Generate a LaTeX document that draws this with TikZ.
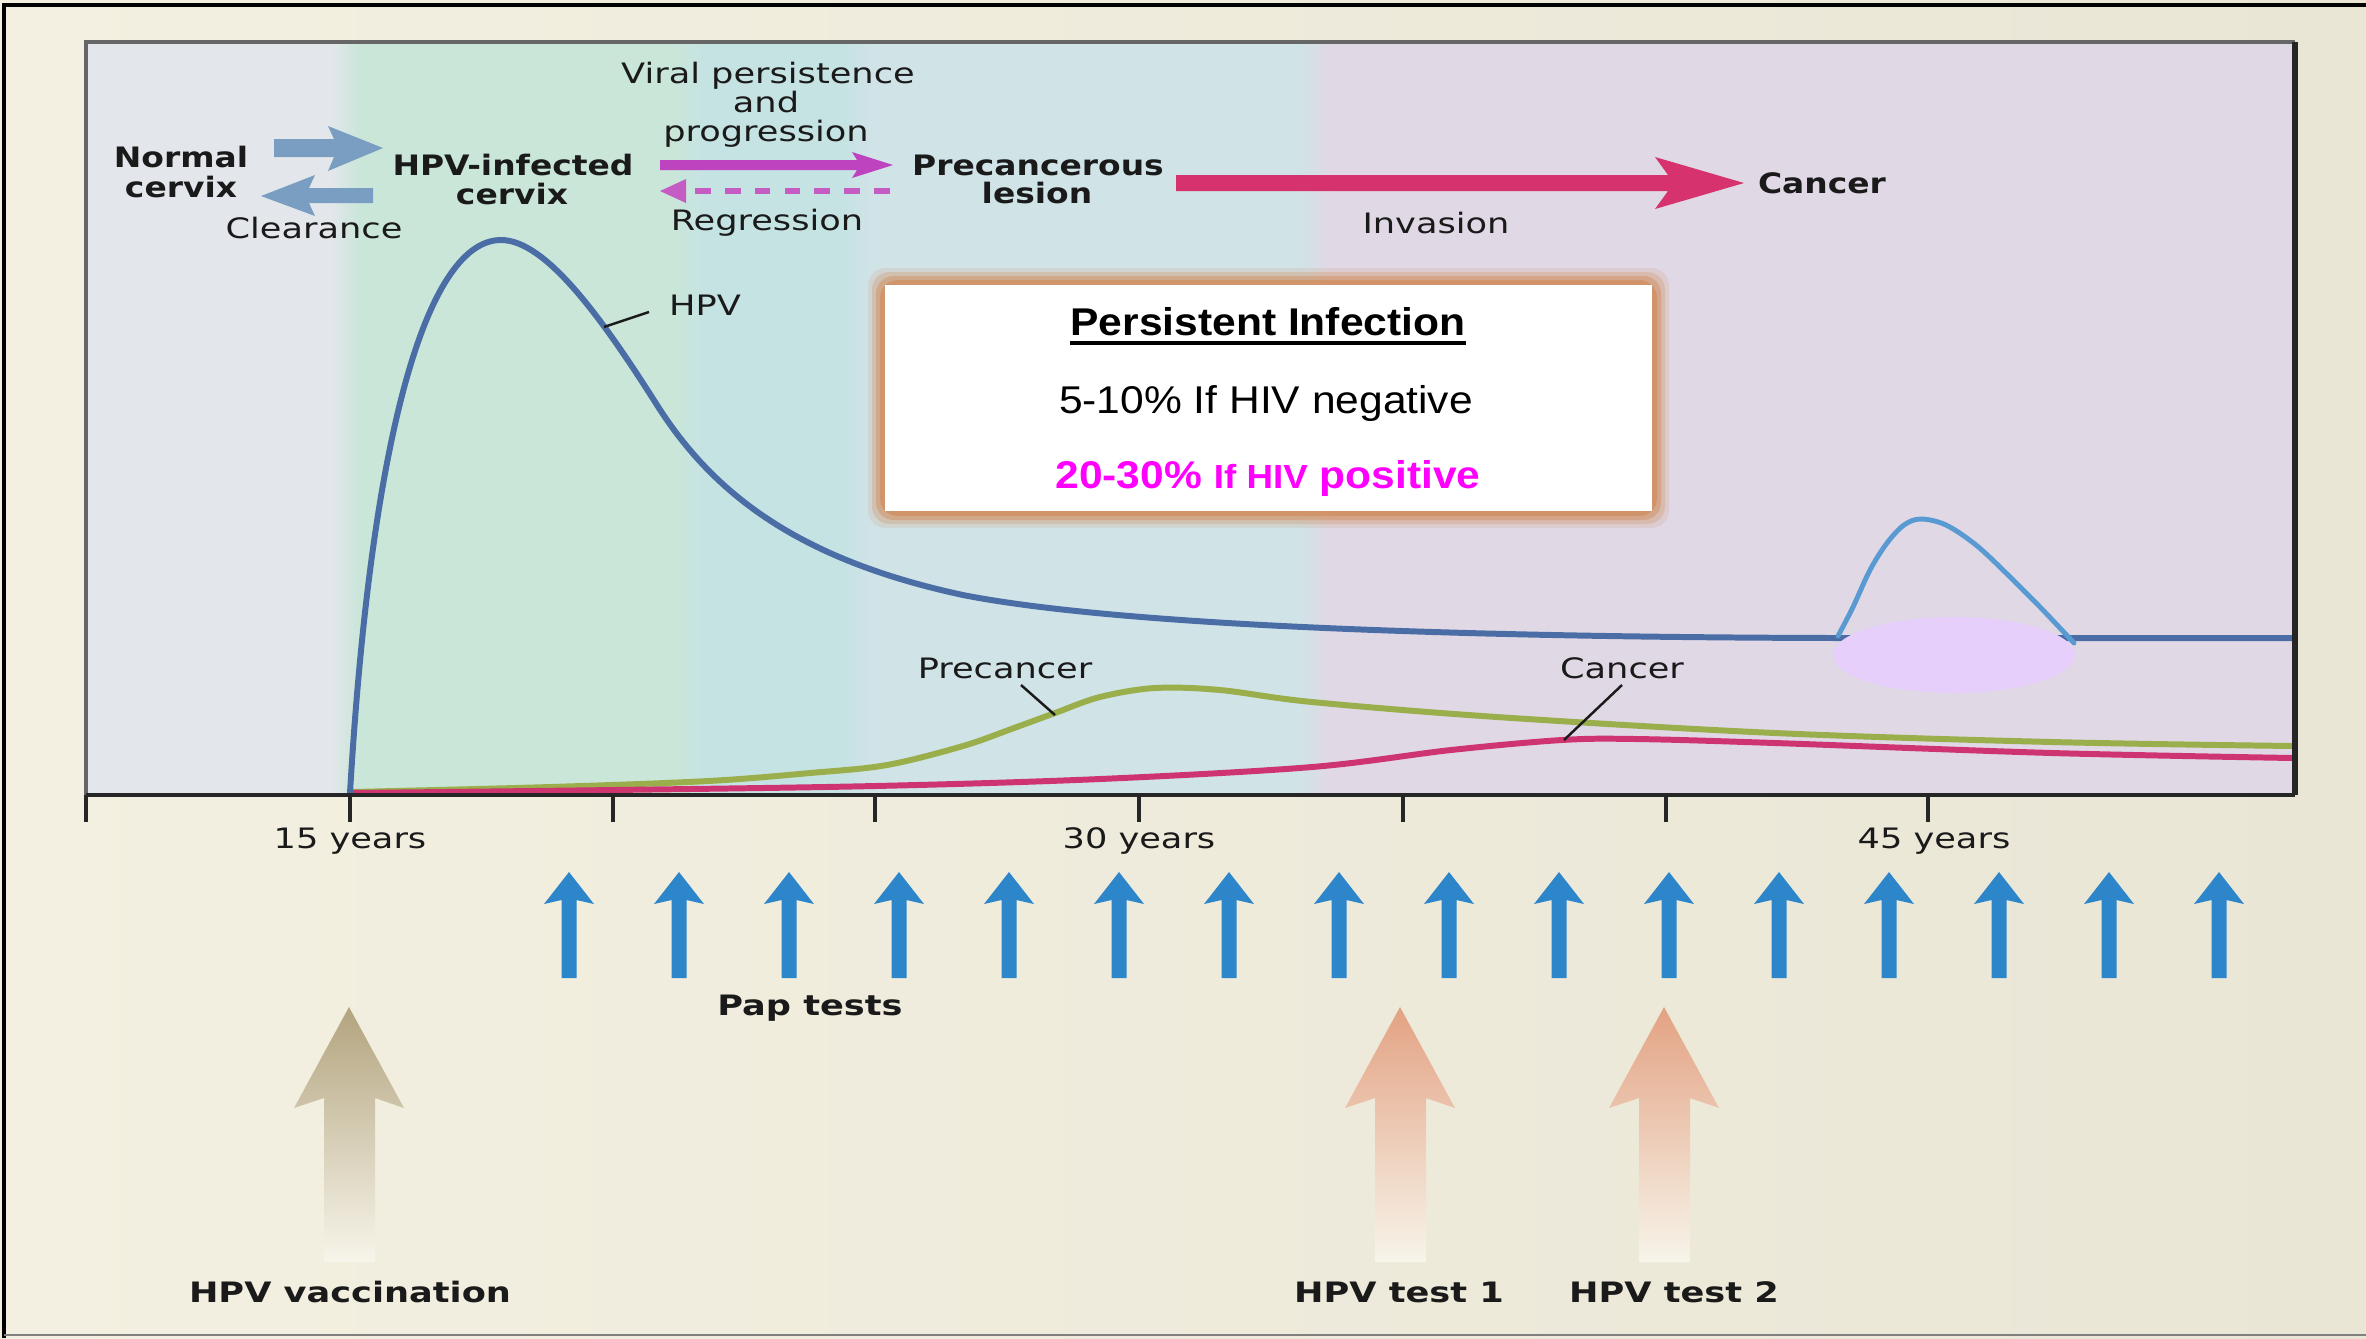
\documentclass[tikz,border=0pt]{standalone}
\usepackage{fontspec}
\newfontfamily\lab[FakeStretch=1.25]{DejaVu Sans}
\newfontfamily\labb[FakeStretch=1.17]{DejaVu Sans}
\newfontfamily\arl[FakeStretch=1.1]{Liberation Sans}
\definecolor{bgA}{HTML}{F4F0E1}
\definecolor{bgB}{HTML}{EAE6D6}
\definecolor{bandA}{HTML}{E3E7EB}
\definecolor{bandB}{HTML}{C9E6D9}
\definecolor{bandC}{HTML}{C6E3E4}
\definecolor{bandD}{HTML}{D0E3E7}
\definecolor{bandE}{HTML}{E0D8E5}
\definecolor{hpvblue}{HTML}{4A6DA6}
\definecolor{bumpblue}{HTML}{5A9AD3}
\definecolor{ellc}{HTML}{E6CFFB}
\definecolor{greenc}{HTML}{9AAE4B}
\definecolor{pinkc}{HTML}{CE3470}
\definecolor{steel}{HTML}{7A9EC2}
\definecolor{purp}{HTML}{BE44BF}
\definecolor{purpd}{HTML}{C45CC4}
\definecolor{crim}{HTML}{D6326E}
\definecolor{papblue}{HTML}{2C86C9}
\definecolor{vaccc}{HTML}{B3A47F}
\definecolor{testc}{HTML}{E3A283}
\definecolor{glowc}{HTML}{D08A58}
\definecolor{mag}{HTML}{FF00FF}
\definecolor{ink}{HTML}{1A1A1A}
\tikzset{
  lbl/.style={font=\lab\fontsize{8}{9}\selectfont, text=ink, inner sep=0pt, anchor=base},
  lblb/.style={font=\labb\bfseries\fontsize{8}{9}\selectfont, text=ink, inner sep=0pt, anchor=base},
  lblbw/.style={font=\lab\bfseries\fontsize{8}{9}\selectfont, text=ink, inner sep=0pt, anchor=base},
  boxt/.style={font=\arl\fontsize{11}{13}\selectfont, text=black, inner sep=0pt, anchor=base},
  curve/.style={line width=1.7pt, line cap=round, line join=round},
  leader/.style={line width=0.7pt, ink},
  tick/.style={line width=0.9pt, black!85},
}
\begin{document}
\begin{tikzpicture}[x=0.01cm, y=-0.01cm]
\useasboundingbox (0,0) rectangle (2366,1338);
% background
\shade[left color=bgA, right color=bgB] (0,0) rectangle (2366,1338);
\draw[line width=1pt, black] (4,1338) -- (4,5) -- (2366,5);
\draw[line width=0.8pt, gray] (4,1335) -- (2366,1335);
% bands
\fill[bandA] (86,42) rectangle (348,795);
\fill[bandB] (348,42) rectangle (690,795);
\fill[bandC] (690,42) rectangle (857,795);
\fill[bandD] (857,42) rectangle (1316,795);
\fill[bandE] (1316,42) rectangle (2295,795);
\shade[left color=bandA, right color=bandB] (330,42) rectangle (360,795);
\shade[left color=bandB, right color=bandC] (675,42) rectangle (705,795);
\shade[left color=bandC, right color=bandD] (845,42) rectangle (870,795);
\shade[left color=bandD, right color=bandE] (1300,42) rectangle (1330,795);
% top flow arrows
\fill[steel] (274,139) -- (334,139) -- (328,126) -- (383,148) -- (328,171) -- (334,157) -- (274,157) -- cycle;
\fill[steel] (373,188) -- (309,188) -- (315,175) -- (261,196) -- (315,216) -- (309,203) -- (373,203) -- cycle;
\fill[purp] (660,160) -- (857,160) -- (852,152) -- (893,165) -- (852,178) -- (857,170) -- (660,170) -- cycle;
\coordinate (dA) at (890,191);
\coordinate (dB) at (684,191);
\draw[purpd, line width=1.5pt, dash pattern=on 4.5pt off 4pt] (dA) -- (dB);
\fill[purpd] (660,191) -- (686,179) -- (686,203) -- cycle;
\fill[crim] (1176,175) -- (1668,175) -- (1655,157) -- (1744,183) -- (1655,209) -- (1668,191) -- (1176,191) -- cycle;
% top labels
\node[lblb] (nc1) at (181,167) {Normal};
\node[lblb] (nc2) at (181,197) {cervix};
\node[lbl] (clr) at (314,238) {Clearance};
\node[lblb] (hi1) at (513,175) {HPV-infected};
\node[lblb] (hi2) at (512,204) {cervix};
\node[lbl] (vp1) at (768,83) {Viral persistence};
\node[lbl] (vp2) at (766,112) {and};
\node[lbl] (vp3) at (766,141) {progression};
\node[lbl] (reg) at (767,230) {Regression};
\node[lblb] (pl1) at (1038,175) {Precancerous};
\node[lblb] (pl2) at (1037,203) {lesion};
\node[lbl] (inv) at (1436,233) {Invasion};
\node[lblb] (can) at (1822,193) {Cancer};
% curves
\draw[curve, greenc] plot[smooth, tension=0.55] coordinates {(352,792) (550,787) (708,781) (810,773) (887,765) (963,746) (1014,728) (1055,713) (1100,697) (1155,688) (1220,690) (1312,702) (1497,717) (1775,733) (2052,742) (2293,746)};
\draw[curve, pinkc] plot[smooth, tension=0.55] coordinates {(352,793) (613,790) (875,786) (1100,779) (1312,767) (1451,750) (1562,740) (1636,739) (1775,743) (2052,753) (2293,758)};
\coordinate (h0) at (350,793);
\coordinate (h1) at (501,240);
\coordinate (h2) at (657,405);
\coordinate (h3) at (963,595);
\coordinate (h4) at (1838,638);
\coordinate (h5) at (2293,638);
\draw[curve, hpvblue] (h0) .. controls (372,420) and (430,240) .. (h1)
  .. controls (545,240) and (600,315) .. (h2)
  .. controls (714,495) and (800,560) .. (h3)
  .. controls (1100,622) and (1400,637) .. (h4) -- (h5);
\fill[ellc] (1954,655) ellipse [x radius=1.21cm, y radius=0.38cm];
\draw[bumpblue, line width=1.4pt, line cap=round] plot[smooth, tension=0.55] coordinates {(1838,636) (1853,607) (1870,570) (1887,543) (1904,525) (1921,519) (1946,525) (1976,545) (2006,573) (2040,607) (2074,643)};
% curve labels
\node[lbl] (hpv) at (705,315) {HPV};
\coordinate (hpvA) at (604,327);
\coordinate (hpvB) at (649,312);
\draw[leader] (hpvA) -- (hpvB);
\node[lbl] (prc) at (1005,678) {Precancer};
\coordinate (prcA) at (1021,685);
\coordinate (prcB) at (1055,715);
\draw[leader] (prcA) -- (prcB);
\node[lbl] (cnc) at (1622,678) {Cancer};
\coordinate (cncA) at (1622,685);
\coordinate (cncB) at (1564,740);
\draw[leader] (cncA) -- (cncB);
% plot frame
\draw[line width=1.1pt, black!60] (86,795) -- (86,42) -- (2295,42);
\draw[line width=1.5pt, black!85] (2295,42) -- (2295,795);
\draw[line width=1.1pt, black!85] (86,795) -- (2295,795);
% ticks
\foreach \tx in {86,350,613,875,1139,1403,1666,1928} \draw[tick] (\tx,795) -- (\tx,822);
\node[lbl] (y15) at (350,848) {15 years};
\node[lbl] (y30) at (1139,848) {30 years};
\node[lbl] (y45) at (1934,848) {45 years};
% info box
\foreach \d/\o in {17/0.15, 13/0.27, 9/0.42, 5/0.62} \fill[glowc, opacity=\o, rounded corners=5] (885-\d,285-\d) rectangle (1652+\d,511+\d);
\fill[white] (885,285) rectangle (1652,511);
\node[boxt, font=\arl\bfseries\fontsize{11}{13}\selectfont] (pi) at (1268,335) {Persistent Infection};
\draw[line width=1.1pt, black] ([yshift=-2.2pt]pi.base west) -- ([yshift=-2.2pt]pi.base east);
\node[boxt] (neg) at (1266,413) {5-10\% If HIV negative};
\node[boxt, text=mag, font=\arl\bfseries\fontsize{11}{13}\selectfont] (pos) at (1268,488) {20-30\% {\fontsize{9.5}{11}\selectfont If HIV} positive};
% pap test arrows
\foreach \i in {0,...,15} {
  \pgfmathsetmacro{\px}{569+110*\i}
  \fill[papblue] (\px-7.5,978) -- (\px-7.5,900) -- (\px-25,904) -- (\px,872) -- (\px+25,904) -- (\px+7.5,900) -- (\px+7.5,978) -- cycle;
}
\node[lblbw] (pap) at (810,1015) {Pap tests};
% bottom gradient arrows
\shade[top color=vaccc, middle color=vaccc!55!bgA, bottom color=bgA!70!white] (349,1007) -- (404,1108) -- (375,1098) -- (375,1262) -- (324,1262) -- (324,1098) -- (294,1108) -- cycle;
\shade[top color=testc, middle color=testc!55!bgA, bottom color=bgA!70!white] (1400,1007) -- (1455,1108) -- (1426,1098) -- (1426,1262) -- (1375,1262) -- (1375,1098) -- (1345,1108) -- cycle;
\shade[top color=testc, middle color=testc!55!bgA, bottom color=bgA!70!white] (1664,1007) -- (1719,1108) -- (1690,1098) -- (1690,1262) -- (1639,1262) -- (1639,1098) -- (1609,1108) -- cycle;
\node[lblbw] (vac) at (350,1302) {HPV vaccination};
\node[lblbw] (ht1) at (1399,1302) {HPV test 1};
\node[lblbw] (ht2) at (1674,1302) {HPV test 2};
\end{tikzpicture}
\end{document}
